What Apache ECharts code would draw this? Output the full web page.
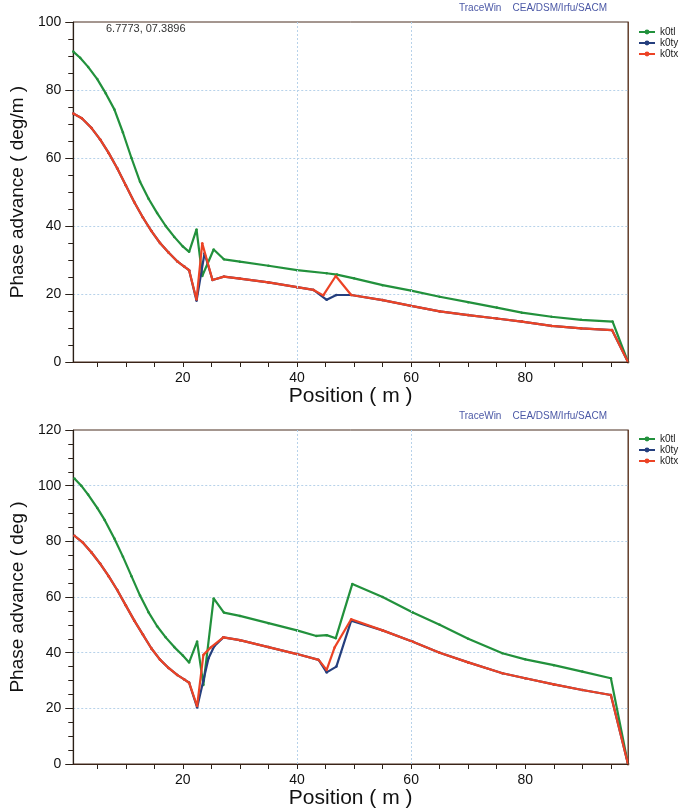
<!DOCTYPE html>
<html>
<head>
<meta charset="utf-8">
<script src="https://cdn.jsdelivr.net/npm/echarts@6/dist/echarts.min.js"></script>
<style>
html,body{margin:0;padding:0;background:#fff;}
#c{width:685px;height:811px;}
</style>
</head>
<body>
<div id="c"></div>
<script>
// ---------- data ----------
var seriesNames = ['k0tl', 'k0ty', 'k0tx'];
var xTickValues = [5,10,15,20,25,30,35,40,45,50,55,60,65,70,75,80,85,90,95];
var xLabelValues = [20, 40, 60, 80];

// Top chart: phase advance (deg/m)
var topTlPos = [0.8, 2, 3.4, 5, 6.5, 8, 9.5, 11, 12.5, 14, 15.5, 17, 18.5, 20, 21.1, 22.4, 23.4, 25.4, 27.2, 30, 35, 40, 45.2, 47, 50, 55, 60, 65, 70, 75, 79.4, 84.6, 89.8, 95.3, 98];
var topTlVal = [91.3, 89.5, 86.8, 83.2, 79, 74.3, 67.5, 60, 53, 48, 43.8, 40, 36.8, 34, 32.4, 39, 25.3, 33.1, 30.2, 29.5, 28.3, 27, 26.1, 25.7, 24.6, 22.6, 21, 19.2, 17.6, 16, 14.5, 13.3, 12.4, 11.9, 0];

var topTyPos = [0.8, 2.3, 4, 5.5, 7, 8.5, 10, 11.5, 13, 14.5, 16, 17.5, 19.1, 20.3, 21.1, 22.4, 23.8, 25.2, 27.2, 30, 35, 40, 42.9, 45.2, 46.9, 49.5, 55, 60, 65, 70, 75, 79.4, 84.6, 89.8, 95.2, 98];
var topTyVal = [73.1, 71.7, 68.8, 65.5, 61.5, 57, 52, 47, 42.5, 38.5, 35, 32.2, 29.5, 28, 27, 18, 32, 24.1, 25.1, 24.5, 23.4, 22, 21.2, 18.3, 19.7, 19.7, 18.2, 16.5, 14.9, 13.8, 12.8, 11.9, 10.6, 9.9, 9.4, 0];

var topTxPos = [0.8, 2.3, 4, 5.5, 7, 8.5, 10, 11.5, 13, 14.5, 16, 17.5, 19.1, 20.3, 21.1, 22.4, 23.4, 25.2, 27.2, 30, 35, 40, 42.9, 44.6, 46.8, 49.5, 55, 60, 65, 70, 75, 79.4, 84.6, 89.8, 95.2, 98];
var topTxVal = [73.1, 71.7, 68.8, 65.5, 61.5, 57, 52, 47, 42.5, 38.5, 35, 32.2, 29.5, 28, 27, 18.4, 34.9, 24.1, 25.1, 24.5, 23.4, 22, 21.2, 19.6, 25.3, 19.7, 18.2, 16.5, 14.9, 13.8, 12.8, 11.9, 10.6, 9.9, 9.4, 0];

// Bottom chart: phase advance (deg)
var botTlPos = [1, 2.2, 3.4, 5, 6.3, 8, 9.5, 11, 12.5, 14, 15.5, 17, 18.5, 20, 21.1, 22.5, 23.6, 25.4, 27.2, 30, 35, 40, 43.4, 45.2, 46.8, 49.7, 55, 60.3, 65, 70, 76, 80, 85, 90, 95, 98];
var botTlVal = [102.6, 100, 96.8, 92, 87.7, 81, 74.5, 67.5, 60.5, 54.5, 49.5, 45.5, 42, 39, 36.5, 44, 28.4, 59.5, 54.4, 53.2, 50.6, 48, 46, 46.3, 45.2, 64.7, 60, 54.4, 50, 45, 39.8, 37.6, 35.5, 33.2, 30.8, 0];

var botTyPos = [1, 2.5, 4, 5.5, 7, 8.5, 10, 11.5, 13, 14.5, 16, 17.5, 19, 20.3, 21.1, 22.5, 23.6, 24.5, 25.5, 27.1, 30, 35, 40, 43.8, 45.2, 46.9, 49.5, 55, 60.3, 65, 70, 76, 80, 85, 90, 95, 98];
var botTyVal = [82, 79.5, 76, 72, 67.5, 62.5, 57, 51.5, 46.5, 41.5, 37.5, 34.5, 32, 30.3, 29.2, 20.3, 30, 38, 42.3, 45.5, 44.5, 42, 39.5, 37.4, 32.9, 35, 51.5, 48, 43.9, 40, 36.5, 32.6, 30.8, 28.6, 26.6, 24.8, 0];

var botTxPos = [1, 2.5, 4, 5.5, 7, 8.5, 10, 11.5, 13, 14.5, 16, 17.5, 19, 20.3, 21.1, 22.5, 23.6, 24.9, 27.1, 30, 35, 40, 43.8, 45.2, 46.6, 49.5, 55, 60.3, 65, 70, 76, 80, 85, 90, 95, 98];
var botTxVal = [82, 79.5, 76, 72, 67.5, 62.5, 57, 51.5, 46.5, 41.5, 37.5, 34.5, 32, 30.3, 29.2, 20.8, 39.2, 41.9, 45.5, 44.5, 42, 39.5, 37.4, 33.8, 41.9, 52, 48, 43.9, 40, 36.5, 32.6, 30.8, 28.6, 26.6, 24.8, 0];

// ---------- build ----------
function pairs(xs, ys) { return xs.map(function (x, i) { return [x, ys[i]]; }); }

var colors = ['#22913c', '#253f7e', '#ec4325'];
var FONT = 'Liberation Sans';
var axisColor = '#2a2018';
var gridLineStyle = { color: '#b7d2ea', type: [2, 2], width: 1 };

function mkXAxes(gridIndex, nameGap) {
  return [
    {
      type: 'value', gridIndex: gridIndex, min: 0.8, max: 98,
      name: 'Position ( m )', nameLocation: 'middle', nameGap: nameGap,
      nameTextStyle: { fontFamily: FONT, fontSize: 21, color: '#111' },
      axisLine: { show: true, lineStyle: { color: axisColor, width: 1.2 } },
      axisTick: { show: true, customValues: xTickValues, length: 5, lineStyle: { color: axisColor } },
      axisLabel: { show: true, customValues: xLabelValues, margin: 9, fontFamily: FONT, fontSize: 14, color: '#111' },
      splitLine: { show: false }
    },
    {
      type: 'value', gridIndex: gridIndex, min: 0.8, max: 98, position: 'top', z: 5,
      axisLine: { show: true, lineStyle: { color: '#3a2418', width: 1.2 } },
      axisTick: { show: false, customValues: xLabelValues },
      axisLabel: { show: false },
      splitLine: { show: true, showMinLine: false, showMaxLine: false, lineStyle: gridLineStyle }
    }
  ];
}
function mkYAxis(gridIndex, max, name) {
  return {
    type: 'value', gridIndex: gridIndex, min: 0, max: max, interval: 20,
    name: name, nameLocation: 'middle', nameGap: 42,
    nameTextStyle: { fontFamily: FONT, fontSize: 19, color: '#111' },
    axisLine: { show: true, lineStyle: { color: axisColor, width: 1.2 } },
    axisTick: { show: true, length: 8, lineStyle: { color: axisColor } },
    minorTick: { show: true, splitNumber: 4, length: 5, lineStyle: { color: axisColor } },
    axisLabel: { margin: 12, fontFamily: FONT, fontSize: 14, color: '#111' },
    splitLine: { show: true, showMinLine: false, showMaxLine: false, lineStyle: gridLineStyle }
  };
}
function mkRightAxis(gridIndex, max) {
  return {
    type: 'value', gridIndex: gridIndex, min: 0, max: max, interval: 20, position: 'right', z: 5,
    axisLine: { show: true, lineStyle: { color: '#6a4430', width: 1 } },
    axisTick: { show: false }, axisLabel: { show: false }, splitLine: { show: false }
  };
}
function mkSeries(name, idx, xi, yi, data) {
  return {
    type: 'line', name: name, xAxisIndex: xi, yAxisIndex: yi, data: data,
    color: colors[idx], symbol: 'circle', symbolSize: 2.5, showSymbol: true,
    lineStyle: { width: 2.2, color: colors[idx] }, itemStyle: { color: colors[idx] },
    animation: false, z: 2 + idx
  };
}

var legendBase = {
  orient: 'vertical', left: 633, itemWidth: 16, itemHeight: 6, itemGap: 1,
  textStyle: { fontFamily: FONT, fontSize: 10, color: '#222', lineHeight: 10 },
  data: seriesNames
};

var option = {
  backgroundColor: '#fff',
  animation: false,
  grid: [
    { left: 68, top: 22, right: 57, height: 340, show: true, borderColor: '#4a2e20', borderWidth: 1 },
    { left: 68, top: 430, right: 57, height: 334, show: true, borderColor: '#4a2e20', borderWidth: 1 }
  ],
  xAxis: mkXAxes(0, 20).concat(mkXAxes(1, 22)),
  yAxis: [
    mkYAxis(0, 100, 'Phase advance ( deg/m )'),
    mkYAxis(1, 120, 'Phase advance ( deg )'),
    mkRightAxis(0, 100),
    mkRightAxis(1, 120)
  ],
  legend: [
    Object.assign({}, legendBase, { top: 22 }),
    Object.assign({}, legendBase, { top: 429 })
  ],
  graphic: [
    { type: 'text', left: 459, top: 3, style: { text: 'TraceWin    CEA/DSM/Irfu/SACM', font: '10px ' + FONT, fill: '#4b58a6' } },
    { type: 'text', left: 459, top: 411, style: { text: 'TraceWin    CEA/DSM/Irfu/SACM', font: '10px ' + FONT, fill: '#4b58a6' } },
    { type: 'text', left: 106, top: 23, style: { text: '6.7773, 07.3896', font: '11px ' + FONT, fill: '#333' } }
  ],
  series: [
    mkSeries('k0tl', 0, 0, 0, pairs(topTlPos, topTlVal)),
    mkSeries('k0ty', 1, 0, 0, pairs(topTyPos, topTyVal)),
    mkSeries('k0tx', 2, 0, 0, pairs(topTxPos, topTxVal)),
    mkSeries('k0tl', 0, 2, 1, pairs(botTlPos, botTlVal)),
    mkSeries('k0ty', 1, 2, 1, pairs(botTyPos, botTyVal)),
    mkSeries('k0tx', 2, 2, 1, pairs(botTxPos, botTxVal))
  ]
};

var chart = echarts.init(document.getElementById('c'), null, { renderer: 'canvas' });
chart.setOption(option);
</script>
</body>
</html>
